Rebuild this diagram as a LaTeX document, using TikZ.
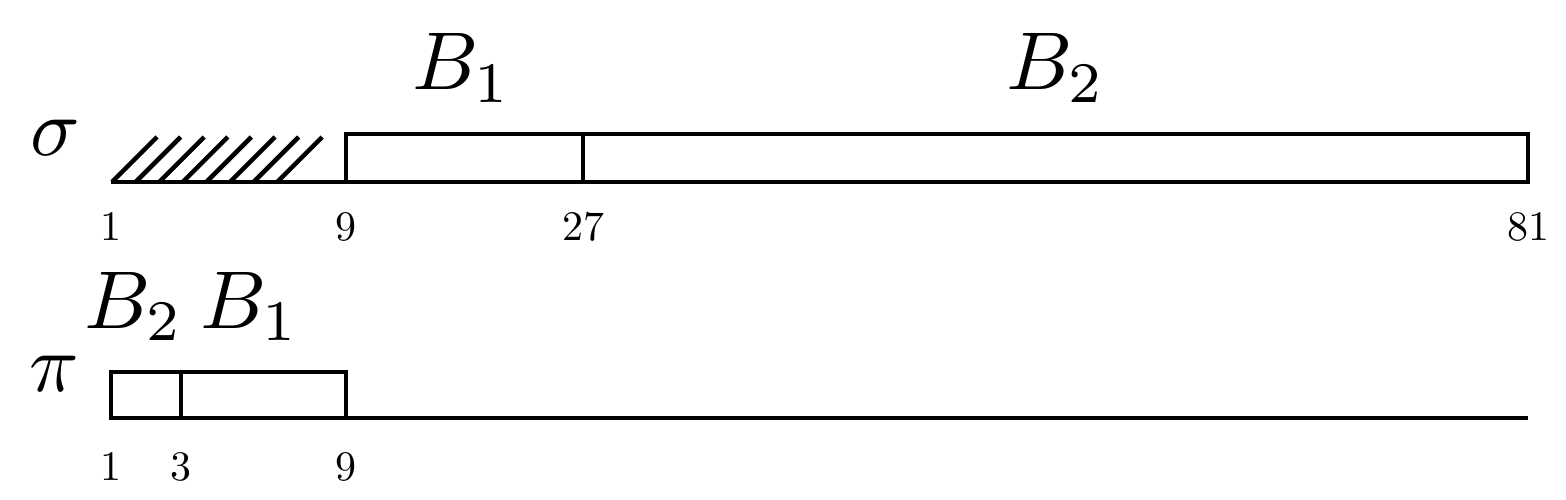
\documentclass[tikz,border=0pt]{standalone}
\newcommand{\hugemath}[1]{\scalebox{8.2}{$#1$}}
\newcommand{\ticknum}[1]{\scalebox{4.2}{#1}}
\begin{document}
\begin{tikzpicture}[x=1pt,y=-1pt,line width=4pt,
  lbl/.style={inner sep=0pt,anchor=base},
  big/.style={inner sep=0pt,anchor=base},
  bar/.style={draw=black,line width=4pt,line join=miter}]
\useasboundingbox (0,0) rectangle (1566,500);
% top row
\coordinate (s1) at (111,182);
\coordinate (s9) at (346,182);
\coordinate (s27) at (583,182);
\coordinate (s81) at (1528,182);
\draw[bar] (s1) -- (s9);
\draw[bar] (s9) rectangle (583,134);
\draw[bar] (s27) rectangle (1528,134);
\foreach \k in {0,...,7}{
  \draw[line width=4.5pt] (112+23.6*\k,182) -- (157+23.6*\k,137);
}
\node[big] (sigma) at (55,155) {\hugemath{\sigma}};
\node[big] (b1top) at (462,90) {\hugemath{B_1}};
\node[big] (b2top) at (1056,90) {\hugemath{B_2}};
\node[lbl] (n1) at (111,240) {\ticknum{1}};
\node[lbl] (n9) at (346,240) {\ticknum{9}};
\node[lbl] (n27) at (583,240) {\ticknum{27}};
\node[lbl] (n81) at (1528,240) {\ticknum{81}};
% bottom row
\coordinate (p1) at (111,418);
\coordinate (p3) at (181,418);
\coordinate (p9) at (346,418);
\coordinate (pend) at (1528,418);
\draw[bar] (p1) rectangle (181,372);
\draw[bar] (p3) rectangle (346,372);
\draw[bar] (p9) -- (pend);
\node[big] (pi) at (54,391) {\hugemath{\pi}};
\node[big] (b2bot) at (134,328) {\hugemath{B_2}};
\node[big] (b1bot) at (250,328) {\hugemath{B_1}};
\node[lbl] (m1) at (111,480) {\ticknum{1}};
\node[lbl] (m3) at (181,480) {\ticknum{3}};
\node[lbl] (m9) at (346,480) {\ticknum{9}};
\end{tikzpicture}
\end{document}
